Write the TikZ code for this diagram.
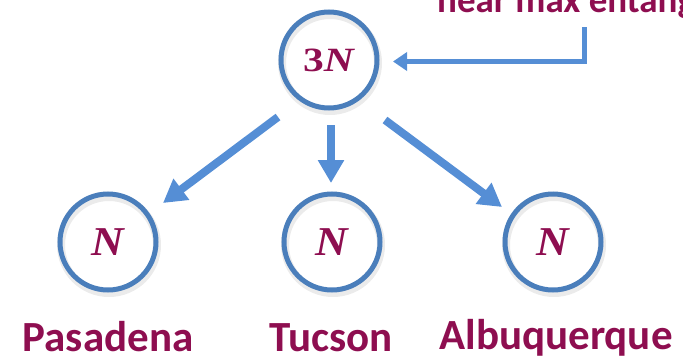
\documentclass[tikz,border=0pt]{standalone}
\usepackage{fontspec}
\usepackage{graphicx}
\setmainfont{Liberation Serif}
\newfontfamily\labfont{Carlito}
\usetikzlibrary{arrows.meta,calc}
\definecolor{mag}{RGB}{142,14,80}
\definecolor{ringblue}{RGB}{74,126,187}
\definecolor{arrblue}{RGB}{85,142,213}
\newcommand\myN{\scalebox{1.1}[1]{\fontsize{41}{41}\selectfont\textbf{\textit{N}}}}
\begin{document}
\begin{tikzpicture}[x=1pt,y=-1pt,
  ring/.style={circle,draw=ringblue,line width=5pt,minimum size=96pt,inner sep=0pt,outer sep=0pt,text=mag},
  shadowring/.style={circle,draw=black,draw opacity=0.08,line width=8pt,minimum size=96pt,inner sep=0pt,outer sep=0pt},
  lab/.style={text=mag,font=\labfont\bfseries\fontsize{43}{43}\selectfont,anchor=base,inner sep=0pt},
  bigarrow/.style={draw=arrblue,line width=8pt,-{Triangle[length=23pt,width=25pt]}},
  thinarrow/.style={draw=arrblue,line width=5pt,-{Triangle[length=14pt,width=18pt]}}]
\useasboundingbox (0,0) rectangle (683,359);
\clip (0,0) rectangle (683,359);
% shadows
\node[shadowring] (tops) at (330,63) {};
\node[shadowring] (pass) at (109,245) {};
\node[shadowring] (tucs) at (333,245) {};
\node[shadowring] (albs) at (554,245) {};
% circles
\node[ring] (top) at (329,60) {\fontsize{34}{34}\selectfont\scalebox{1.22}[1]{\textbf{3}\textbf{\textit{N}}}};
\node[ring] (pas) at (108,242) {\myN};
\node[ring] (tuc) at (332,242) {\myN};
\node[ring] (alb) at (553,242) {\myN};
% labels
\node[lab] (lpas) at (108,351) {Pasadena};
\node[lab] (ltuc) at (331,351) {Tucson};
\node[lab] (lalb) at (556,349) {Albuquerque};
\node[lab,anchor=base west,font=\labfont\bfseries\fontsize{37}{37}\selectfont] (note) at (437,12) {near max entanglement};
% arrows
\draw[bigarrow] ($(top.center)+(-51,57)$) -- ($(pas.center)+(55,-39)$);
\draw[bigarrow] ($(top.center)+(2,65)$) -- ($(tuc.center)+(-1,-59)$);
\draw[bigarrow] ($(top.center)+(56,60)$) -- ($(alb.center)+(-51,-35)$);
\coordinate (src) at (584.5,27);
\draw[thinarrow] (src) |- ([xshift=16pt,yshift=-1.5pt]top.east);
\end{tikzpicture}
\end{document}
